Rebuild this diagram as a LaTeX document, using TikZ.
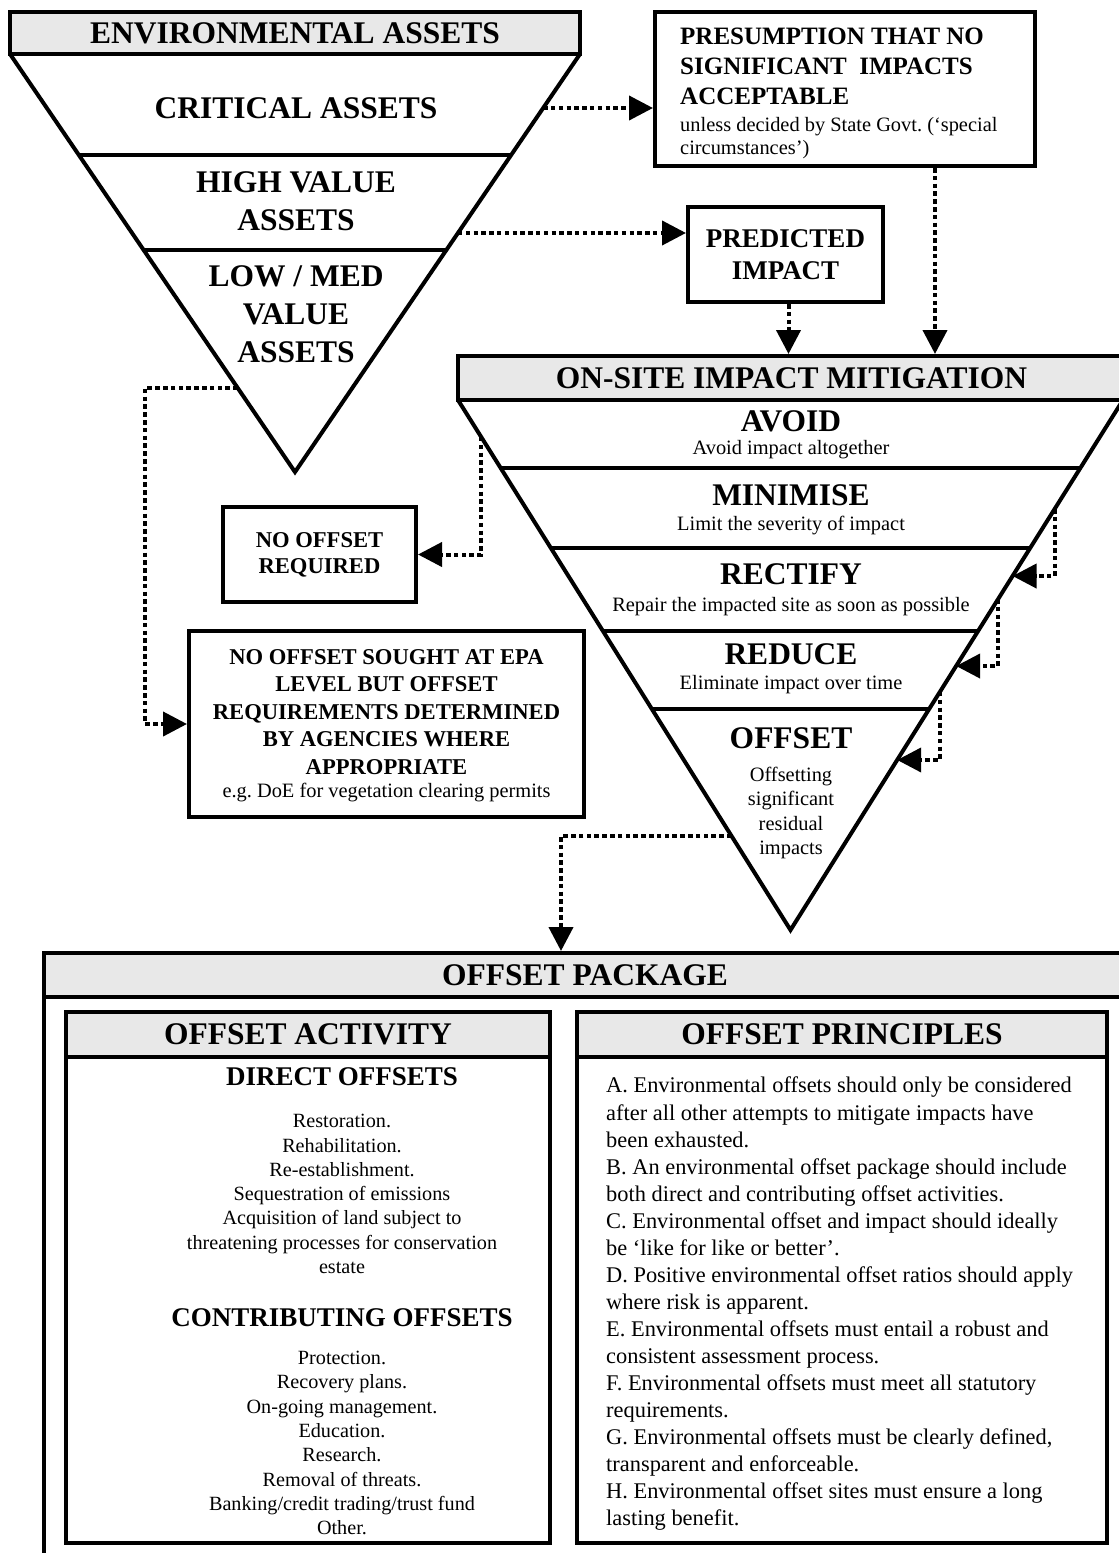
\documentclass[tikz,border=0pt]{standalone}
\usepackage{fontspec}
\setmainfont{Liberation Serif}
\usetikzlibrary{arrows.meta,calc}
\definecolor{hdrgray}{RGB}{232,232,232}
\newcommand\fixsp{\spaceskip=\fontdimen2\font\relax\xspaceskip=\fontdimen2\font\relax}
\newcommand\fHead{\fontsize{31.5pt}{38pt}\selectfont\bfseries}
\newcommand\fPres{\fontsize{25pt}{30pt}\selectfont\bfseries\fixsp}
\newcommand\fMid{\fontsize{27pt}{32pt}\selectfont\bfseries}
\newcommand\fSmall{\fontsize{22.6pt}{27.5pt}\selectfont\bfseries\fixsp}
\newcommand\fReg{\fontsize{20.4pt}{23.5pt}\selectfont\mdseries\fixsp}
\newcommand\fList{\fontsize{20.2pt}{24.3pt}\selectfont}
\newcommand\fPrin{\fontsize{22.4pt}{27.06pt}\selectfont\fixsp}
\begin{document}
\begin{tikzpicture}[x=1pt,y=-1pt,
  thick4/.style={line width=4pt},
  hdr/.style={draw, line width=4pt, fill=hdrgray, font=\fHead, inner sep=0pt},
  box/.style={draw, line width=4pt, fill=white, inner sep=0pt},
  lbl/.style={inner sep=0pt, font=\fHead, align=center},
  sub/.style={inner sep=0pt, font=\fReg, align=center},
  dotarrow/.style={line width=4pt, dash pattern=on 4.5pt off 3.3pt, -{Triangle[length=24pt,width=24pt]}},
]
\useasboundingbox (0,0) rectangle (1119,1553);
\clip (0,0) rectangle (1119,1553);
\fill[white] (0,0) rectangle (1119,1553);

% ---------- Environmental assets ----------
\coordinate (envTL) at (10,54);
\coordinate (envTR) at (580,54);
\coordinate (envA) at (295,472);
\draw[thick4] (envTL) -- (envA) -- (envTR);
\draw[thick4] ($(envTL)!0.2416!(envA)$) -- ($(envTR)!0.2416!(envA)$);
\draw[thick4] ($(envTL)!0.4689!(envA)$) -- ($(envTR)!0.4689!(envA)$);
\node[hdr, minimum width=570pt, minimum height=42pt] (envhead) at (295,33) {ENVIRONMENTAL ASSETS};
\node[lbl] (crit) at (296,108) {CRITICAL ASSETS};
\node[lbl] (high) at (296,201) {HIGH VALUE\\ASSETS};
\node[lbl] (low) at (296,314) {LOW / MED\\VALUE\\ASSETS};
\coordinate (eCrit) at ($(envTR)!0.1292!(envA)$);
\coordinate (eHigh) at ($(envTR)!0.4282!(envA)$);
\coordinate (eLow) at ($(envTL)!0.799!(envA)$);
\coordinate (lowx) at (145,0);

% ---------- boxes top ----------
\node[box, minimum width=380pt, minimum height=154pt] (pres) at (845,89) {};
\node[inner sep=0pt, text width=340pt, align=left, anchor=north west] (prestext) at (680,28)
 {\fPres PRESUMPTION THAT NO\\ SIGNIFICANT\ \ IMPACTS\\ ACCEPTABLE\par\vspace{3pt}
  \fReg unless decided by State Govt. (‘special\\ circumstances’)\par};
\node[box, minimum width=195pt, minimum height=95pt, font=\fMid, align=center] (pred) at (785.5,254.5) {PREDICTED\\IMPACT};
\coordinate (presout) at ($(pres.south)+(90,0)$);
\coordinate (predout) at ($(pred.south)+(3,0)$);

% ---------- On-site mitigation ----------
\coordinate (onTL) at (458,400);
\coordinate (onTR) at (1123,400);
\coordinate (onA) at (790.5,930);
\draw[thick4] (onTL) -- (onA) -- (onTR);
\foreach \t in {0.1283,0.2792,0.4358,0.5830}
  \draw[thick4] ($(onTL)!\t!(onA)$) -- ($(onTR)!\t!(onA)$);
\node[hdr, minimum width=667pt, minimum height=44pt] (onhead) at (791.5,378) {ON-SITE IMPACT MITIGATION};
\node[lbl] (avoid) at (791,421) {AVOID};
\node[sub] (avoidt) at (791,450) {Avoid impact altogether};
\node[lbl] (minim) at (791,495) {MINIMISE};
\node[sub] (minimt) at (791,526) {Limit the severity of impact};
\node[lbl] (rect) at (791,574) {RECTIFY};
\node[sub] (rectt) at (791,607) {Repair the impacted site as soon as possible};
\node[lbl] (redu) at (791,654) {REDUCE};
\node[sub] (redut) at (791,685) {Eliminate impact over time};
\node[lbl] (offs) at (791,738) {OFFSET};
\node[sub, font=\fontsize{20.4pt}{24.3pt}\selectfont] (offst) at (791,813) {Offsetting\\significant\\residual\\impacts};
\coordinate (eAvoid) at ($(onTL)!0.0698!(onA)$);
\coordinate (r1s) at ($(onTR)!0.2057!(onA)$);
\coordinate (r1e) at ($(onTR)!0.3321!(onA)$);
\coordinate (r2s) at ($(onTR)!0.3755!(onA)$);
\coordinate (r2e) at ($(onTR)!0.5019!(onA)$);
\coordinate (r3s) at ($(onTR)!0.5509!(onA)$);
\coordinate (r3e) at ($(onTR)!0.6792!(onA)$);
\coordinate (eOff) at ($(onTL)!0.8226!(onA)$);

% ---------- no-offset boxes ----------
\node[box, minimum width=193pt, minimum height=95pt, font=\fontsize{22.6pt}{26pt}\selectfont\bfseries, align=center] (noreq) at (319.5,554.5) {NO OFFSET\\REQUIRED};
\node[box, minimum width=395pt, minimum height=186pt] (sought) at (386.5,724) {};
\node[inner sep=0pt, text width=390pt, align=center, anchor=north] (soughttext) at (386.5,649)
 {\fSmall NO OFFSET SOUGHT AT EPA\\ LEVEL BUT OFFSET\\ REQUIREMENTS DETERMINED\\ BY AGENCIES WHERE\\ APPROPRIATE\par
  \fReg e.g. DoE for vegetation clearing permits\par};

% ---------- Offset package ----------
\node[box, fill=none, minimum width=1082pt, minimum height=617pt] (pkg) at (585,1261.5) {};
\node[hdr, minimum width=1082pt, minimum height=44pt] (pkghead) at (585,975) {OFFSET PACKAGE};
\coordinate (pkgin) at (561,951);

\node[box, minimum width=484pt, minimum height=531pt] (act) at (308,1277.5) {};
\node[hdr, minimum width=484pt, minimum height=45pt] (acthead) at (308,1034.5) {OFFSET ACTIVITY};
\node[inner sep=0pt, font=\fMid] (direct) at (342,1077) {DIRECT OFFSETS};
\node[inner sep=0pt, font=\fList, align=center] (dlist) at (342,1194) {Restoration.\\Rehabilitation.\\Re-establishment.\\Sequestration of emissions\\Acquisition of land subject to\\threatening processes for conservation\\estate};
\node[inner sep=0pt, font=\fMid] (contrib) at (342,1318) {CONTRIBUTING OFFSETS};
\node[inner sep=0pt, font=\fList, align=center] (clist) at (342,1443) {Protection.\\Recovery plans.\\On-going management.\\Education.\\Research.\\Removal of threats.\\Banking/credit trading/trust fund\\Other.};

\node[box, minimum width=530pt, minimum height=531pt] (prinbox) at (842,1277.5) {};
\node[hdr, minimum width=530pt, minimum height=45pt] (prinhead) at (842,1034.5) {OFFSET PRINCIPLES};
\node[inner sep=0pt, text width=500pt, align=left, anchor=north west] (prin) at (606,1077) {\fPrin A. Environmental offsets should only be considered\\
after all other attempts to mitigate impacts have\\
been exhausted.\\
B. An environmental offset package should include\\
both direct and contributing offset activities.\\
C. Environmental offset and impact should ideally\\
be ‘like for like or better’.\\
D. Positive environmental offset ratios should apply\\
where risk is apparent.\\
E. Environmental offsets must entail a robust and\\
consistent assessment process.\\
F. Environmental offsets must meet all statutory\\
requirements.\\
G. Environmental offsets must be clearly defined,\\
transparent and enforceable.\\
H. Environmental offset sites must ensure a long\\
lasting benefit.\par};

% ---------- connectors ----------
\draw[dotarrow] (eCrit) -- (eCrit -| pres.west);
\draw[dotarrow] (eHigh) -- (eHigh -| pred.west);
\draw[dotarrow] (presout) -- (presout |- onhead.north);
\draw[dotarrow] (predout) -- (predout |- onhead.north);
\draw[dotarrow] (eAvoid) |- (noreq.east);
\draw[dotarrow] (r1s) |- (r1e);
\draw[dotarrow] (r2s) |- (r2e);
\draw[dotarrow] (r3s) |- (r3e);
\draw[dotarrow] (eOff) -| (pkgin);
\draw[dotarrow] (eLow) -- (eLow -| lowx) |- (sought.west);
\end{tikzpicture}
\end{document}
